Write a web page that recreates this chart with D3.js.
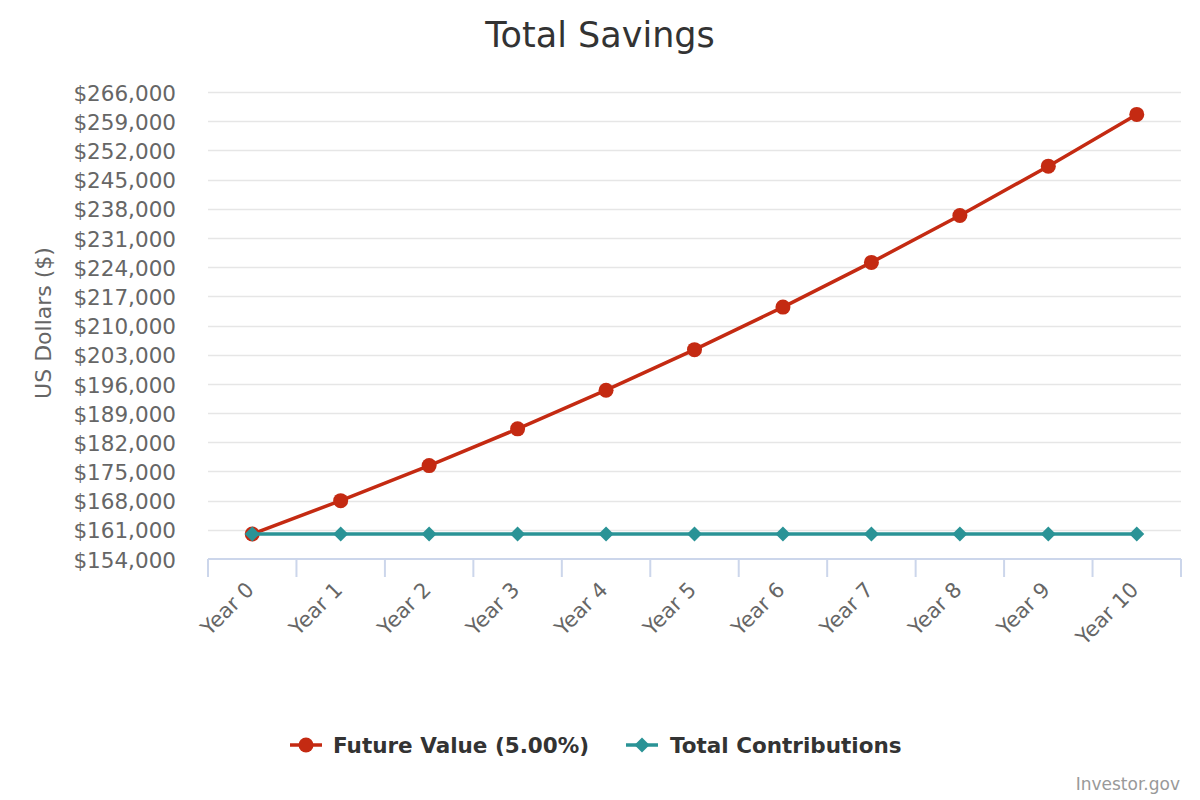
<!DOCTYPE html>
<html>
<head>
<meta charset="utf-8">
<script src="https://cdn.jsdelivr.net/npm/d3@7"></script>
<style>
  html, body { margin: 0; padding: 0; background: #ffffff; }
  svg { display: block; }
</style>
</head>
<body>
<svg id="chart" width="1200" height="800"></svg>
<script>
const categories = ["Year 0", "Year 1", "Year 2", "Year 3", "Year 4", "Year 5",
                    "Year 6", "Year 7", "Year 8", "Year 9", "Year 10"];
const futureValue = [160000, 168000, 176400, 185220, 194481, 204205,
                     214415, 225136, 236393, 248213, 260623];
const totalContributions = [160000, 160000, 160000, 160000, 160000, 160000,
                            160000, 160000, 160000, 160000, 160000];
const yTickValues = [154000, 161000, 168000, 175000, 182000, 189000, 196000, 203000,
                     210000, 217000, 224000, 231000, 238000, 245000, 252000, 259000, 266000];
const seriesNames = ["Future Value (5.00%)", "Total Contributions"];
const chartTitle = "Total Savings";
const yAxisTitle = "US Dollars ($)";
const creditText = "Investor.gov";

(function () {
const RED = "#c42a12";
const TEAL = "#2a9396";
const FONT = "'DejaVu Sans', sans-serif";

const svg = d3.select("#chart");

const plotLeft = 208, plotRight = 1181, plotTop = 92, plotBottom = 559;

const x = d3.scaleBand().domain(categories).range([plotLeft, plotRight]).padding(0);
const cx = d => x(d) + x.bandwidth() / 2;
const y = d3.scaleLinear().domain([154000, 266000]).range([plotBottom, plotTop]);

// Title
svg.append("text")
  .attr("x", 600).attr("y", 47)
  .attr("text-anchor", "middle")
  .style("font-family", FONT).style("font-size", "35px")
  .attr("fill", "#333333")
  .text(chartTitle);

// Gridlines
svg.append("g").selectAll("line")
  .data(yTickValues.filter(v => v !== 154000))
  .join("line")
  .attr("x1", plotLeft).attr("x2", plotRight)
  .attr("y1", d => Math.round(y(d)) + 0.5).attr("y2", d => Math.round(y(d)) + 0.5)
  .attr("stroke", "#e6e6e6").attr("stroke-width", 1.5);

// Y axis labels via d3 axis
const yAxis = d3.axisLeft(y).tickValues(yTickValues)
  .tickFormat(d => "$" + d3.format(",")(d))
  .tickSize(0).tickPadding(0);
const yg = svg.append("g").attr("transform", "translate(176,0)").call(yAxis);
yg.select(".domain").remove();
yg.selectAll("text")
  .attr("dy", "0.38em")
  .style("font-family", FONT).style("font-size", "21.5px")
  .attr("fill", "#666666");

// Y axis title
svg.append("text")
  .attr("transform", "translate(51,323) rotate(-90)")
  .attr("text-anchor", "middle")
  .style("font-family", FONT).style("font-size", "22px")
  .attr("fill", "#666666")
  .text(yAxisTitle);

// X axis line + ticks at band edges
const xg = svg.append("g");
xg.append("line")
  .attr("x1", plotLeft).attr("x2", plotRight)
  .attr("y1", plotBottom).attr("y2", plotBottom)
  .attr("stroke", "#ccd6eb").attr("stroke-width", 2);
const edges = categories.map(c => x(c)).concat([x(categories[categories.length - 1]) + x.bandwidth()]);
xg.selectAll("line.tick")
  .data(edges)
  .join("line").attr("class", "tick")
  .attr("x1", d => d).attr("x2", d => d)
  .attr("y1", plotBottom).attr("y2", plotBottom + 18)
  .attr("stroke", "#ccd6eb").attr("stroke-width", 2);

// X labels rotated
xg.selectAll("text")
  .data(categories)
  .join("text")
  .attr("transform", d => `translate(${cx(d) + 3},591) rotate(-45)`)
  .attr("text-anchor", "end")
  .style("font-family", FONT).style("font-size", "21px")
  .attr("fill", "#666666")
  .text(d => d);

// Lines
const line = d3.line().x((d, i) => cx(categories[i])).y(d => y(d));

svg.append("path")
  .datum(futureValue)
  .attr("d", line)
  .attr("fill", "none").attr("stroke", RED).attr("stroke-width", 3.5)
  .attr("stroke-linejoin", "round");
svg.append("g").selectAll("circle")
  .data(futureValue)
  .join("circle")
  .attr("cx", (d, i) => cx(categories[i])).attr("cy", d => y(d))
  .attr("r", 7.5).attr("fill", RED);

svg.append("path")
  .datum(totalContributions)
  .attr("d", line)
  .attr("fill", "none").attr("stroke", TEAL).attr("stroke-width", 3.5)
  .attr("stroke-linejoin", "round");
const diamond = (px, py, r) => `M${px},${py - r}L${px + r},${py}L${px},${py + r}L${px - r},${py}Z`;
svg.append("g").selectAll("path")
  .data(totalContributions)
  .join("path")
  .attr("d", (d, i) => diamond(cx(categories[i]), y(d), 7.5))
  .attr("fill", TEAL);

// Legend
const legendY = 745;
const legendItems = [
  { name: seriesNames[0], color: RED, sym: "circle", x0: 290, tx: 333 },
  { name: seriesNames[1], color: TEAL, sym: "diamond", x0: 626, tx: 670 }
];
const lg = svg.append("g");
legendItems.forEach(it => {
  lg.append("line")
    .attr("x1", it.x0).attr("x2", it.x0 + 32)
    .attr("y1", legendY).attr("y2", legendY)
    .attr("stroke", it.color).attr("stroke-width", 3.5);
  if (it.sym === "circle") {
    lg.append("circle").attr("cx", it.x0 + 16).attr("cy", legendY).attr("r", 7.5).attr("fill", it.color);
  } else {
    lg.append("path").attr("d", diamond(it.x0 + 16, legendY, 7.5)).attr("fill", it.color);
  }
  lg.append("text")
    .attr("x", it.tx).attr("y", legendY + 8)
    .style("font-family", FONT)
    .style("font-size", "21.5px").style("font-weight", "bold")
    .attr("fill", "#333333")
    .text(it.name);
});

// Credit
svg.append("text")
  .attr("x", 1180).attr("y", 790)
  .attr("text-anchor", "end")
  .style("font-family", FONT).style("font-size", "17px")
  .attr("fill", "#999999")
  .text(creditText);
})();
</script>
</body>
</html>
